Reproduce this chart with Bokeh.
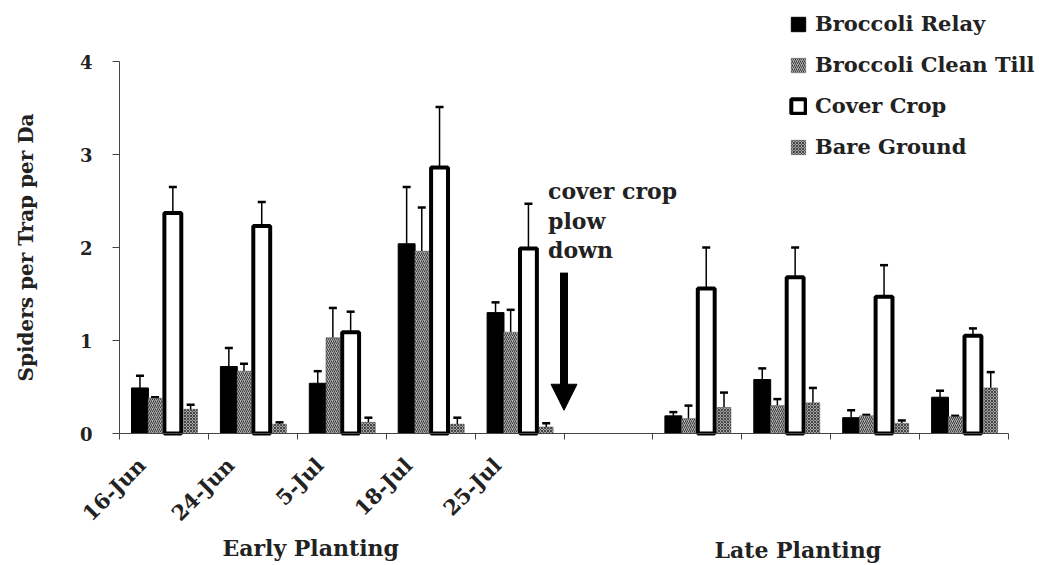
from bokeh.plotting import figure
from bokeh.models import (Range1d, FixedTicker, Whisker, TeeHead, ColumnDataSource,
                          Legend, LegendItem, Label, Arrow, NormalHead)
from bokeh.embed import file_html
from bokeh.resources import INLINE

# ---- data ----
dates = ["16-Jun", "24-Jun", "5-Jul", "18-Jul", "25-Jul"]
slots = [0, 1, 2, 3, 4, 6, 7, 8, 9]          # slot 5 is the plow-down gap
relay = [0.49, 0.72, 0.54, 2.04, 1.30, 0.19, 0.58, 0.17, 0.39]
relay_err = [0.13, 0.20, 0.13, 0.61, 0.11, 0.04, 0.12, 0.08, 0.07]
clean = [0.38, 0.67, 1.03, 1.96, 1.09, 0.16, 0.30, 0.19, 0.18]
clean_err = [0.01, 0.08, 0.32, 0.47, 0.24, 0.14, 0.07, 0.01, 0.01]
cover = [2.37, 2.23, 1.09, 2.86, 1.99, 1.56, 1.68, 1.47, 1.05]
cover_err = [0.28, 0.26, 0.22, 0.65, 0.48, 0.44, 0.32, 0.34, 0.08]
bare = [0.26, 0.10, 0.12, 0.10, 0.07, 0.28, 0.33, 0.11, 0.49]
bare_err = [0.05, 0.02, 0.05, 0.07, 0.04, 0.16, 0.16, 0.03, 0.17]
series_names = ["Broccoli Relay", "Broccoli Clean Till", "Cover Crop", "Bare Ground"]
y_ticks = [0, 1, 2, 3, 4]

FONT = "DejaVu Serif"
W, H = 1042, 563
X0, X1 = 119, 1008      # canvas px of x=0 and x=10
Y0, Y4 = 433, 61        # canvas px of y=0 and y=4
sx = (X1 - X0) / 10.0
sy = (Y0 - Y4) / 4.0

p = figure(width=W, height=H, output_backend="svg", toolbar_location=None,
           x_range=Range1d(-X0 / sx, 10 + (W - X1) / sx),
           y_range=Range1d(-(H - Y0) / sy, 4 + Y4 / sy),
           min_border_left=0, min_border_right=0, min_border_top=0,
           min_border_bottom=0)
p.outline_line_color = None
p.xgrid.visible = False
p.ygrid.visible = False

offsets = [0.23, 0.40, 0.60, 0.80]
widths = [0.19, 0.155, 0.19, 0.155]
vals = [relay, clean, cover, bare]
errs = [relay_err, clean_err, cover_err, bare_err]
styles = [
    dict(fill_color="black", line_color="black", line_width=1),
    dict(fill_color="#b0b0b0", line_color="#555555", line_width=0.5,
         hatch_pattern="right_diagonal_line", hatch_color="#3a3a3a", hatch_scale=4, hatch_weight=1),
    dict(fill_color="white", line_color="black", line_width=4),
    dict(fill_color="#a4a4a4", line_color="#555555", line_width=0.5,
         hatch_pattern="diagonal_cross", hatch_color="#444444", hatch_scale=3, hatch_weight=1),
]

renderers = []
for k in range(4):
    xs = [s + offsets[k] for s in slots]
    src = ColumnDataSource(dict(x=xs, top=vals[k],
                                upper=[v + e for v, e in zip(vals[k], errs[k])]))
    w = Whisker(source=src, base="x", lower="top", upper="upper",
                line_color="black", line_width=1.5,
                upper_head=TeeHead(size=8, line_width=2.5, line_color="black"),
                lower_head=None)
    p.add_layout(w)
    r = p.vbar(x="x", top="top", bottom=0, width=widths[k], source=src, **styles[k])
    renderers.append(r)

# axes (drawn at fixed data positions inside the full-canvas frame)
xa = p.xaxis[0]
xa.fixed_location = 0
xa.bounds = (0, 10)
centers = [i + 0.25 for i in range(len(dates))]
xa.ticker = FixedTicker(ticks=centers, minor_ticks=list(range(11)))
xa.major_label_overrides = {c: d for c, d in zip(centers, dates)}
xa.major_tick_out = 0
xa.major_tick_in = 0
xa.minor_tick_out = 6
xa.minor_tick_in = 0
xa.minor_tick_line_color = "#444444"
xa.axis_line_color = "#444444"
xa.major_label_orientation = 0.785
xa.major_label_text_font = FONT
xa.major_label_text_font_style = "bold"
xa.major_label_text_font_size = "21px"
xa.major_label_text_color = "#222222"
xa.major_label_standoff = 22

ya = p.yaxis[0]
ya.fixed_location = 0
ya.bounds = (0, 4)
ya.ticker = FixedTicker(ticks=y_ticks)
ya.minor_tick_line_color = None
ya.major_tick_out = 7
ya.major_tick_in = 0
ya.major_tick_line_color = "#444444"
ya.axis_line_color = "#444444"
ya.major_label_text_font = FONT
ya.major_label_text_font_style = "bold"
ya.major_label_text_font_size = "18px"
ya.major_label_text_color = "#222222"
ya.major_label_standoff = 20
ya.axis_label = "Spiders per Trap per Da"
ya.axis_label_text_font = FONT
ya.axis_label_text_font_style = "bold"
ya.axis_label_text_font_size = "20px"
ya.axis_label_text_color = "#222222"
ya.axis_label_standoff = 39

# group labels
for txt, x, y in [("Early Planting", 2.15, -1.23), ("Late Planting", 7.63, -1.255)]:
    p.add_layout(Label(x=x, y=y, text=txt, text_align="center", text_baseline="middle",
                       text_font=FONT, text_font_style="bold", text_font_size="22px",
                       text_color="#222222"))

# annotation
for txt, y in [("cover crop", 2.61), ("plow", 2.29), ("down", 1.97)]:
    p.add_layout(Label(x=5.0, y=y, x_offset=-16, text=txt, text_align="left",
                       text_baseline="middle", text_font=FONT, text_font_style="bold",
                       text_font_size="22px", text_color="#222222"))
p.segment(x0=[5.0], y0=[1.73], x1=[5.0], y1=[0.45], line_width=8, line_color="black")
p.add_layout(Arrow(end=NormalHead(size=26, fill_color="black", line_color="black"),
                   x_start=5.0, y_start=0.5, x_end=5.0, y_end=0.25, line_alpha=0))

# legend
items = [LegendItem(label=n, renderers=[r]) for n, r in zip(series_names, renderers)]
leg = Legend(items=items, location=(789, H - 159), orientation="vertical",
             glyph_width=18, glyph_height=18, label_height=20, spacing=16,
             label_standoff=8, padding=0, margin=0,
             border_line_color=None, background_fill_alpha=0,
             label_text_font=FONT, label_text_font_style="bold",
             label_text_font_size="21px", label_text_color="#222222")
p.add_layout(leg)

open("out.html", "w").write(file_html(p, INLINE))
